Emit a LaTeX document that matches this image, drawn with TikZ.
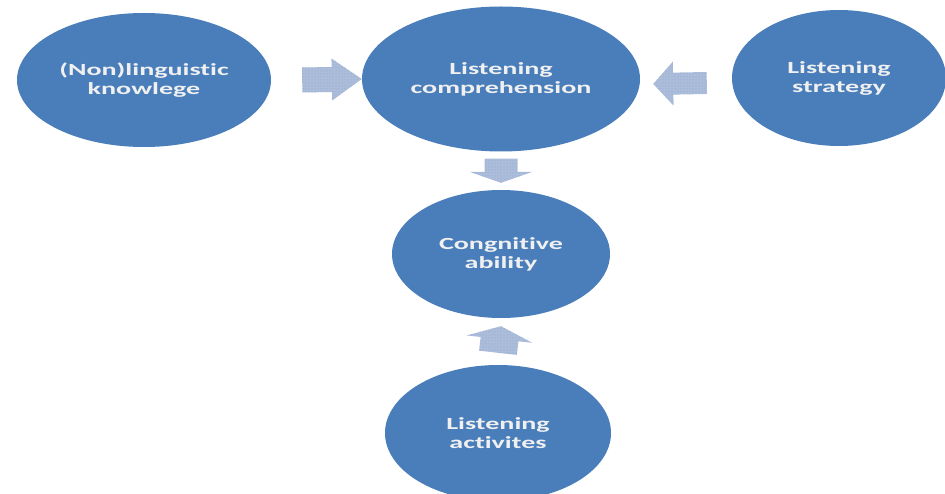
\documentclass[tikz,border=0pt]{standalone}
\usepackage{fontspec}
\setmainfont{Carlito}
\newfontfamily\bubblefont[FakeStretch=1.65,Ligatures=NoCommon]{Carlito}
\usepackage{tikz}
\usetikzlibrary{shapes,calc,patterns}
\definecolor{bubblefill}{HTML}{4A7EBB}
\definecolor{arrowfill}{HTML}{ABBDDA}
\definecolor{arrowdot}{HTML}{8A9FC4}
\tikzset{
	bubble/.style={ellipse,fill=bubblefill,inner sep=0pt,align=center,
		text=white!94!black,font=\bubblefont\bfseries\fontsize{17}{19}\selectfont},
	% #1 half body width, #2 half head width, #3 head length
	blockarrow/.style n args={3}{preaction={fill=arrowfill},pattern=dots,pattern color=arrowdot,
		to path={($(\tikztostart)!#1!90:(\tikztotarget)$)
			-- ($($(\tikztotarget)!#3!(\tikztostart)$)!#1!90:(\tikztotarget)$)
			-- ($($(\tikztotarget)!#3!(\tikztostart)$)!#2!90:(\tikztotarget)$)
			-- (\tikztotarget)
			-- ($($(\tikztotarget)!#3!(\tikztostart)$)!#2!-90:(\tikztotarget)$)
			-- ($($(\tikztotarget)!#3!(\tikztostart)$)!#1!-90:(\tikztotarget)$)
			-- ($(\tikztostart)!#1!-90:(\tikztotarget)$) -- cycle}}
}
\begin{document}
\begin{tikzpicture}[x=1pt,y=-1pt]
		\useasboundingbox (0,0) rectangle (945,494);
		% bubbles
		\node[bubble,minimum width=254pt,minimum height=134pt] (know) at (144,80) {(Non)linguistic\\knowlege};
		\node[bubble,minimum width=278pt,minimum height=145pt] (comp) at (501,79) {Listening\\comprehension};
		\node[bubble,minimum width=214pt,minimum height=136pt] (strat) at (839,78) {Listening\\strategy};
		\node[bubble,minimum width=218pt,minimum height=128pt] (cog) at (501,254) {Congnitive\\ability};
		\node[bubble,minimum width=226pt,minimum height=136pt] (act) at (498,433) {Listening\\activites};
		% arrows
		\coordinate (lefttip) at ([xshift=13pt,yshift=-5pt]comp.east);
		\coordinate (downtip) at ([yshift=7pt]cog.north);
		\coordinate (uptip) at ([yshift=-8pt]cog.south);
		\path[blockarrow={12.5pt}{21pt}{30pt}] ([xshift=31pt]know.east) to (comp.west);
		\path[blockarrow={11pt}{22pt}{20pt}] ([xshift=-25pt,yshift=-5pt]strat.west) to (lefttip);
		\path[blockarrow={16.5pt}{31.5pt}{11pt}] ([yshift=-7pt]comp.south) to (downtip);
		\path[blockarrow={19pt}{33pt}{13pt}] ([yshift=12pt]act.north) to (uptip);
		\end{tikzpicture}
\end{document}
